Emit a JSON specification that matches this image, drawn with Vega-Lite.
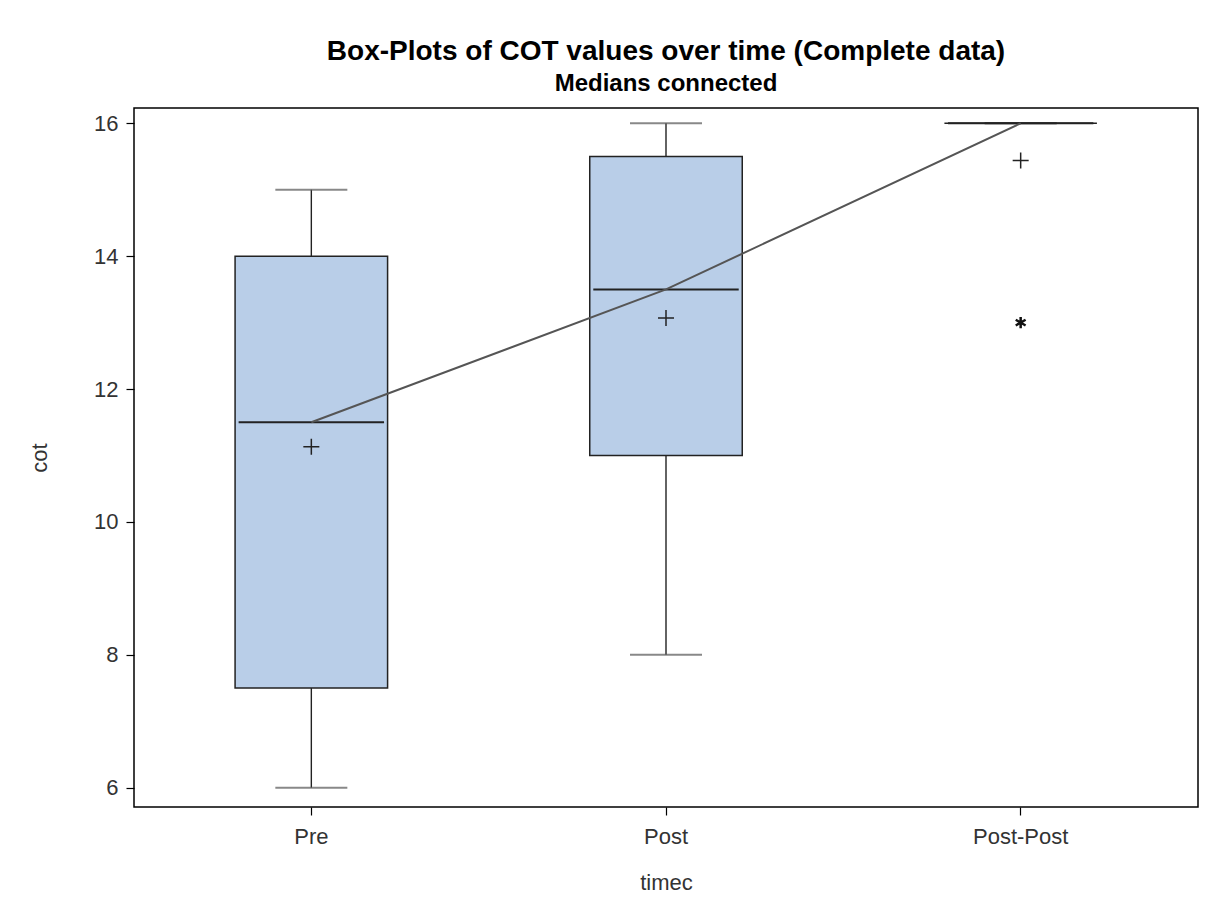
{
  "$schema": "https://vega.github.io/schema/vega-lite/v6.json",
  "autosize": {"type": "none"},
  "padding": {"left": 134, "top": 108, "right": 7, "bottom": 104},
  "width": 1064,
  "height": 699,
  "background": "white",
  "title": {
    "text": "Box-Plots of COT values over time (Complete data)",
    "subtitle": "Medians connected",
    "anchor": "middle",
    "frame": "group",
    "font": "Liberation Sans",
    "fontSize": 28,
    "fontWeight": "bold",
    "color": "#000000",
    "subtitleFont": "Liberation Sans",
    "subtitleFontSize": 24,
    "subtitleFontWeight": "bold",
    "subtitleColor": "#000000",
    "subtitlePadding": 6,
    "offset": 12
  },
  "config": {
    "view": {"stroke": "#000000", "strokeWidth": 1.5},
    "axis": {
      "grid": false,
      "domain": false,
      "tickColor": "#000000",
      "tickSize": 8,
      "tickWidth": 1.2,
      "labelFont": "Liberation Sans",
      "labelFontSize": 22,
      "labelColor": "#333333",
      "titleFont": "Liberation Sans",
      "titleFontSize": 22,
      "titleFontWeight": "normal",
      "titleColor": "#333333"
    }
  },
  "datasets": {
    "boxes": [
      {"timec": "Pre", "low": 6, "q1": 7.5, "median": 11.5, "q3": 14, "high": 15, "mean": 11.13},
      {"timec": "Post", "low": 8, "q1": 11, "median": 13.5, "q3": 15.5, "high": 16, "mean": 13.07},
      {"timec": "Post-Post", "low": 16, "q1": 16, "median": 16, "q3": 16, "high": 16, "mean": 15.44}
    ],
    "outliers": [
      {"timec": "Post-Post", "cot": 13}
    ]
  },
  "data": {"name": "boxes"},
  "encoding": {
    "x": {
      "field": "timec",
      "type": "nominal",
      "sort": ["Pre", "Post", "Post-Post"],
      "scale": {"paddingInner": 0, "paddingOuter": 0},
      "axis": {"title": "timec", "labelAngle": 0, "labelPadding": 11, "titlePadding": 25}
    }
  },
  "layer": [
    {
      "mark": {"type": "rule", "color": "#222222", "strokeWidth": 1.4},
      "encoding": {
        "y": {"field": "low", "type": "quantitative", "scale": {"domain": [5.71, 16.23], "nice": false, "zero": false},
          "axis": {"title": "cot", "values": [6, 8, 10, 12, 14, 16], "format": "d", "labelPadding": 8, "titlePadding": 42}},
        "y2": {"field": "q1"}
      }
    },
    {
      "mark": {"type": "rule", "color": "#222222", "strokeWidth": 1.4},
      "encoding": {
        "y": {"field": "q3", "type": "quantitative"},
        "y2": {"field": "high"}
      }
    },
    {
      "mark": {"type": "tick", "orient": "horizontal", "color": "#555555", "size": 72, "thickness": 2},
      "encoding": {"y": {"field": "low", "type": "quantitative"}}
    },
    {
      "mark": {"type": "tick", "orient": "horizontal", "color": "#555555", "size": 72, "thickness": 2},
      "encoding": {"y": {"field": "high", "type": "quantitative"}}
    },
    {
      "mark": {"type": "bar", "width": {"band": 0.43}, "fill": "#B9CEE8", "stroke": "#222222", "strokeWidth": 1.5},
      "encoding": {
        "y": {"field": "q1", "type": "quantitative"},
        "y2": {"field": "q3"}
      }
    },
    {
      "mark": {"type": "bar", "width": {"band": 0.41}, "fill": null, "stroke": "#222222", "strokeWidth": 2},
      "encoding": {
        "y": {"field": "median", "type": "quantitative"},
        "y2": {"field": "median"}
      }
    },
    {
      "mark": {"type": "line", "color": "#555555", "strokeWidth": 2},
      "encoding": {"y": {"field": "median", "type": "quantitative"}}
    },
    {
      "mark": {"type": "point", "shape": "M-1,0H1M0,-1V1", "stroke": "#222222", "strokeWidth": 1.5, "filled": false, "size": 256, "opacity": 1},
      "encoding": {"y": {"field": "mean", "type": "quantitative"}}
    },
    {
      "data": {"name": "outliers"},
      "mark": {"type": "point", "shape": "M0,-1V1M-0.866,-0.5L0.866,0.5M-0.866,0.5L0.866,-0.5", "stroke": "#111111", "strokeWidth": 2.5, "filled": false, "size": 130, "opacity": 1},
      "encoding": {"y": {"field": "cot", "type": "quantitative"}}
    }
  ]
}
